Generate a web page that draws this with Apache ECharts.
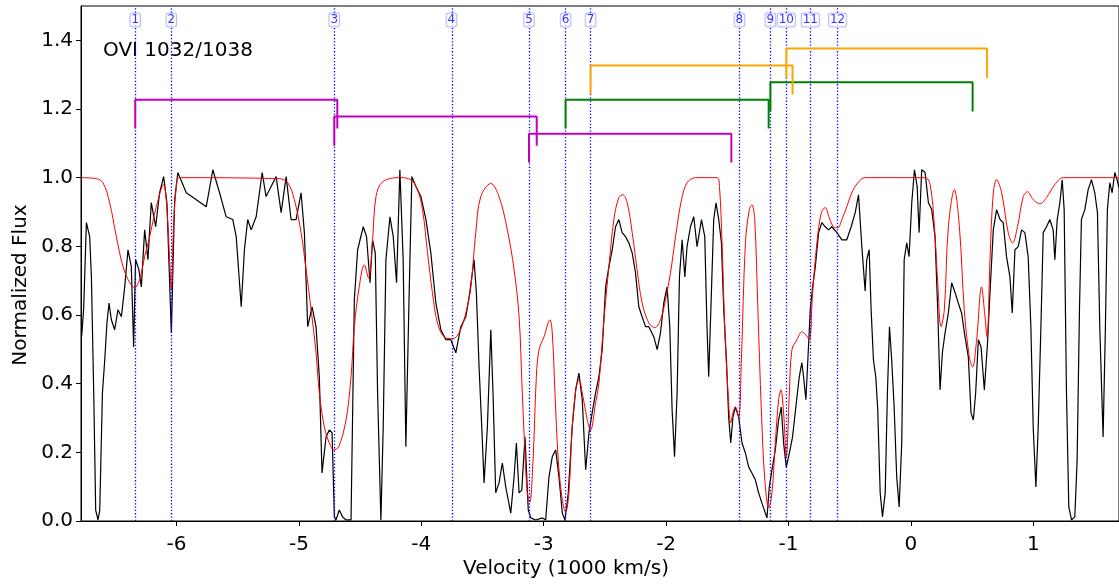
<!DOCTYPE html>
<html>
<head>
<meta charset="utf-8">
<title>OVI 1032/1038</title>
<script src="https://cdn.jsdelivr.net/npm/echarts@6/dist/echarts.min.js"></script>
<style>
  html, body { margin: 0; padding: 0; background: #fff; }
  #chart { width: 1119px; height: 585px; }
</style>
</head>
<body>
<div id="chart"></div>
<script>
// observed spectrum, [velocity (1000 km/s), normalized flux]
const fluxData = [
  [-6.774,0.54],[-6.758,0.62],[-6.736,0.869],[-6.709,0.828],[-6.695,0.711],[-6.676,0.373],[-6.660,0.032],
  [-6.641,0.003],[-6.627,0.030],[-6.605,0.373],[-6.586,0.469],[-6.568,0.577],[-6.551,0.635],[-6.532,0.586],
  [-6.505,0.557],[-6.478,0.615],[-6.450,0.595],[-6.423,0.682],[-6.396,0.790],[-6.369,0.741],[-6.350,0.507],
  [-6.334,0.761],[-6.307,0.732],[-6.287,0.682],[-6.260,0.848],[-6.233,0.761],[-6.206,0.927],[-6.170,0.857],
  [-6.138,0.956],[-6.105,1.003],[-6.078,0.927],[-6.042,0.548],[-6.015,0.936],[-5.989,1.015],[-5.920,0.956],
  [-5.838,0.936],[-5.757,0.915],[-5.703,1.023],[-5.648,0.956],[-5.594,0.886],[-5.540,0.878],[-5.512,0.828],
  [-5.471,0.624],[-5.445,0.790],[-5.418,0.878],[-5.390,0.848],[-5.349,0.886],[-5.300,1.015],[-5.268,0.945],
  [-5.227,0.974],[-5.186,1.003],[-5.145,0.898],[-5.104,1.003],[-5.064,0.878],[-5.023,0.878],[-4.982,0.956],
  [-4.955,0.840],[-4.928,0.566],[-4.892,0.624],[-4.860,0.566],[-4.833,0.420],[-4.811,0.140],[-4.778,0.245],
  [-4.751,0.265],[-4.729,0.257],[-4.710,0.012],[-4.697,0.003],[-4.670,0.032],[-4.643,0.012],[-4.615,0.003],
  [-4.574,0.003],[-4.547,0.644],[-4.520,0.790],[-4.474,0.857],[-4.447,0.828],[-4.419,0.694],[-4.398,0.819],
  [-4.376,0.781],[-4.357,0.373],[-4.330,0.003],[-4.311,0.274],[-4.289,0.761],[-4.256,0.886],[-4.229,0.828],
  [-4.202,0.694],[-4.175,1.023],[-4.148,0.761],[-4.126,0.216],[-4.099,0.665],[-4.077,1.003],[-4.044,0.974],
  [-4.003,0.945],[-3.962,0.878],[-3.922,0.781],[-3.881,0.635],[-3.840,0.557],[-3.799,0.528],[-3.759,0.528],
  [-3.718,0.490],[-3.677,0.566],[-3.636,0.595],[-3.604,0.665],[-3.569,0.761],[-3.550,0.665],[-3.528,0.449],
  [-3.506,0.274],[-3.487,0.111],[-3.460,0.274],[-3.432,0.557],[-3.414,0.373],[-3.392,0.082],[-3.365,0.111],
  [-3.338,0.169],[-3.310,0.099],[-3.269,0.023],[-3.242,0.128],[-3.223,0.227],[-3.201,0.082],[-3.179,0.090],
  [-3.153,0.245],[-3.126,0.032],[-3.106,0.009],[-3.065,0.003],[-3.011,0.009],[-2.984,0.003],[-2.957,0.128],
  [-2.930,0.187],[-2.902,0.207],[-2.875,0.128],[-2.848,0.023],[-2.826,0.003],[-2.799,0.082],[-2.767,0.274],
  [-2.739,0.382],[-2.712,0.431],[-2.685,0.353],[-2.657,0.149],[-2.630,0.257],[-2.604,0.315],[-2.576,0.373],
  [-2.549,0.420],[-2.522,0.499],[-2.494,0.682],[-2.467,0.741],[-2.440,0.790],[-2.413,0.857],[-2.386,0.878],
  [-2.359,0.840],[-2.331,0.828],[-2.304,0.810],[-2.277,0.781],[-2.250,0.723],[-2.223,0.624],[-2.196,0.595],
  [-2.168,0.566],[-2.141,0.566],[-2.100,0.536],[-2.073,0.499],[-2.046,0.548],[-2.019,0.635],[-1.992,0.682],
  [-1.970,0.566],[-1.951,0.324],[-1.931,0.187],[-1.910,0.373],[-1.891,0.711],[-1.869,0.819],[-1.847,0.711],
  [-1.829,0.799],[-1.801,0.857],[-1.774,0.886],[-1.747,0.799],[-1.711,0.878],[-1.684,0.828],[-1.666,0.566],
  [-1.652,0.420],[-1.630,0.665],[-1.611,0.878],[-1.592,0.927],[-1.570,0.878],[-1.548,0.810],[-1.529,0.615],
  [-1.507,0.469],[-1.489,0.303],[-1.472,0.227],[-1.454,0.303],[-1.434,0.332],[-1.407,0.303],[-1.380,0.227],
  [-1.352,0.198],[-1.325,0.157],[-1.299,0.140],[-1.271,0.120],[-1.244,0.082],[-1.217,0.052],[-1.189,0.023],
  [-1.176,0.009],[-1.157,0.099],[-1.135,0.149],[-1.108,0.207],[-1.081,0.294],[-1.059,0.332],[-1.040,0.227],
  [-1.018,0.157],[-0.993,0.198],[-0.967,0.245],[-0.940,0.332],[-0.912,0.420],[-0.891,0.461],[-0.877,0.420],
  [-0.858,0.353],[-0.842,0.469],[-0.822,0.615],[-0.803,0.682],[-0.781,0.741],[-0.754,0.840],[-0.728,0.869],
  [-0.700,0.857],[-0.673,0.848],[-0.646,0.857],[-0.605,0.840],[-0.564,0.819],[-0.524,0.819],[-0.488,0.857],
  [-0.455,0.898],[-0.428,0.950],[-0.401,0.800],[-0.374,0.670],[-0.361,0.761],[-0.341,0.790],[-0.325,0.615],
  [-0.306,0.469],[-0.287,0.420],[-0.271,0.324],[-0.251,0.082],[-0.232,0.012],[-0.210,0.082],[-0.192,0.373],
  [-0.175,0.566],[-0.157,0.469],[-0.137,0.332],[-0.116,0.128],[-0.096,0.041],[-0.075,0.227],[-0.055,0.761],
  [-0.034,0.810],[-0.015,0.770],[0.007,0.927],[0.029,1.023],[0.051,0.974],[0.067,0.840],[0.088,1.023],
  [0.116,1.015],[0.143,0.927],[0.170,0.907],[0.197,0.828],[0.219,0.615],[0.238,0.382],[0.257,0.490],
  [0.279,0.548],[0.306,0.606],[0.333,0.694],[0.361,0.665],[0.387,0.635],[0.414,0.606],[0.442,0.536],
  [0.469,0.478],[0.491,0.315],[0.510,0.294],[0.529,0.373],[0.551,0.528],[0.573,0.507],[0.600,0.382],
  [0.626,0.519],[0.646,0.665],[0.673,0.848],[0.700,0.907],[0.728,0.878],[0.754,0.869],[0.781,0.770],
  [0.809,0.711],[0.828,0.606],[0.850,0.790],[0.877,0.799],[0.904,0.848],[0.931,0.840],[0.958,0.770],
  [0.980,0.566],[0.999,0.274],[1.021,0.099],[1.040,0.274],[1.062,0.566],[1.081,0.840],[1.108,0.857],
  [1.135,0.878],[1.162,0.848],[1.176,0.761],[1.195,0.878],[1.217,0.927],[1.236,0.994],[1.252,0.907],
  [1.271,0.373],[1.290,0.041],[1.312,0.003],[1.339,0.012],[1.358,0.178],[1.377,0.615],[1.393,0.878],
  [1.421,0.907],[1.448,0.965],[1.475,0.994],[1.502,0.956],[1.524,0.898],[1.543,0.566],[1.570,0.245],
  [1.589,0.566],[1.605,0.907],[1.625,0.985],[1.644,0.956],[1.666,1.015],[1.684,0.994],[1.700,0.970]
];

// fitted model
const modelData = [
  [-6.78,1.000],[-6.654,0.997],[-6.600,0.985],[-6.546,0.927],[-6.491,0.828],[-6.437,0.741],[-6.382,0.694],
  [-6.342,0.679],[-6.301,0.703],[-6.260,0.770],[-6.219,0.828],[-6.165,0.915],[-6.105,0.980],[-6.078,0.907],
  [-6.056,0.761],[-6.042,0.673],[-6.024,0.857],[-6.001,0.974],[-5.975,1.000],[-5.159,0.997],[-5.091,0.985],
  [-5.037,0.936],[-4.982,0.840],[-4.941,0.732],[-4.900,0.615],[-4.860,0.490],[-4.833,0.373],[-4.792,0.274],
  [-4.751,0.227],[-4.716,0.207],[-4.675,0.216],[-4.615,0.294],[-4.574,0.420],[-4.547,0.566],[-4.507,0.682],
  [-4.466,0.746],[-4.431,0.708],[-4.398,0.819],[-4.370,0.945],[-4.316,0.988],[-4.180,1.000],[-4.085,0.994],
  [-4.031,0.965],[-3.990,0.907],[-3.949,0.781],[-3.909,0.665],[-3.868,0.577],[-3.813,0.536],[-3.745,0.531],
  [-3.691,0.548],[-3.636,0.606],[-3.595,0.682],[-3.555,0.840],[-3.514,0.945],[-3.432,0.983],[-3.365,0.945],
  [-3.297,0.848],[-3.242,0.732],[-3.201,0.595],[-3.175,0.373],[-3.153,0.198],[-3.134,0.082],[-3.114,0.055],
  [-3.087,0.178],[-3.060,0.420],[-3.038,0.499],[-2.998,0.536],[-2.949,0.586],[-2.930,0.548],[-2.908,0.373],
  [-2.881,0.178],[-2.848,0.061],[-2.821,0.026],[-2.794,0.082],[-2.767,0.274],[-2.734,0.391],[-2.712,0.411],
  [-2.679,0.362],[-2.644,0.294],[-2.617,0.265],[-2.576,0.344],[-2.549,0.400],[-2.508,0.586],[-2.467,0.741],
  [-2.427,0.878],[-2.386,0.942],[-2.353,0.950],[-2.318,0.927],[-2.277,0.840],[-2.237,0.732],[-2.196,0.635],
  [-2.141,0.577],[-2.092,0.563],[-2.046,0.586],[-2.005,0.644],[-1.964,0.723],[-1.923,0.828],[-1.874,0.936],
  [-1.829,0.985],[-1.760,1.000],[-1.584,1.000],[-1.564,0.974],[-1.543,0.810],[-1.521,0.566],[-1.494,0.373],
  [-1.472,0.286],[-1.454,0.315],[-1.434,0.332],[-1.407,0.303],[-1.385,0.469],[-1.352,0.810],[-1.320,0.907],
  [-1.299,0.921],[-1.276,0.878],[-1.250,0.615],[-1.222,0.324],[-1.195,0.128],[-1.162,0.038],[-1.135,0.082],
  [-1.108,0.227],[-1.081,0.353],[-1.062,0.382],[-1.040,0.315],[-1.018,0.187],[-0.993,0.373],[-0.972,0.499],
  [-0.931,0.528],[-0.891,0.551],[-0.858,0.542],[-0.830,0.528],[-0.803,0.665],[-0.768,0.810],[-0.732,0.898],
  [-0.700,0.913],[-0.667,0.883],[-0.632,0.857],[-0.597,0.854],[-0.564,0.878],[-0.524,0.915],[-0.483,0.956],
  [-0.434,0.985],[-0.374,1.000],[0.116,1.000],[0.157,0.980],[0.192,0.857],[0.219,0.694],[0.246,0.566],
  [0.273,0.615],[0.306,0.857],[0.355,0.965],[0.396,0.857],[0.436,0.615],[0.477,0.478],[0.504,0.449],
  [0.537,0.528],[0.577,0.682],[0.600,0.615],[0.622,0.536],[0.646,0.761],[0.673,0.956],[0.700,0.994],
  [0.741,0.956],[0.795,0.840],[0.830,0.810],[0.871,0.857],[0.918,0.945],[0.953,0.959],[0.999,0.936],
  [1.054,0.924],[1.108,0.942],[1.176,0.980],[1.244,1.000],[1.700,1.000]
];

// absorption component markers
const lineVel = [-6.337, -6.042, -4.711, -3.754, -3.120, -2.821, -2.617, -1.401, -1.148, -1.018, -0.822, -0.599];
const lineIds = ['1','2','3','4','5','6','7','8','9','10','11','12'];
const labelY = 1.459;

// doublet brackets: [v start, v end, top, leg bottom]
const magentaBrackets = [[-6.337,-4.686,1.227,1.143],[-4.711,-3.057,1.178,1.093],[-3.120,-1.467,1.128,1.044]];
const greenBrackets = [[-2.821,-1.162,1.227,1.143],[-1.148,0.504,1.278,1.193]];
const orangeBrackets = [[-2.617,-0.967,1.327,1.242],[-1.018,0.622,1.376,1.290]];

const xTicks = [-6, -5, -4, -3, -2, -1, 0, 1];
const yTicks = [0, 0.2, 0.4, 0.6, 0.8, 1.0, 1.2, 1.4];

const FONT = 'DejaVu Sans';

function bracketSeries(list, color) {
  return list.map(b => ({
    type: 'line',
    data: [[b[0], b[3]], [b[0], b[2]], [b[1], b[2]], [b[1], b[3]]],
    symbol: 'none',
    lineStyle: { color: color, width: 2 },
    silent: true,
    z: 6
  }));
}

const chart = echarts.init(document.getElementById('chart'), null, { renderer: 'canvas' });

chart.setOption({
  animation: false,
  backgroundColor: '#fff',
  grid: {
    left: 81, top: 6, width: 1040, height: 515,
    show: true, borderColor: '#000', borderWidth: 1, backgroundColor: 'transparent'
  },
  xAxis: {
    type: 'value', min: -6.78, max: 1.7,
    axisLine: { show: true, onZero: false, lineStyle: { color: '#000', width: 1 } },
    axisTick: { show: true, inside: false, length: 5, customValues: xTicks, lineStyle: { color: '#000' } },
    axisLabel: { customValues: xTicks, color: '#000', fontFamily: FONT, fontSize: 20, margin: 14 },
    splitLine: { show: false }
  },
  yAxis: {
    type: 'value', min: 0, max: 1.5,
    axisLine: { show: true, onZero: false, lineStyle: { color: '#000', width: 1 } },
    axisTick: { show: true, inside: false, length: 5, customValues: yTicks, lineStyle: { color: '#000' } },
    axisLabel: {
      customValues: yTicks, color: '#000', fontFamily: FONT, fontSize: 20, margin: 8,
      formatter: v => v.toFixed(1)
    },
    splitLine: { show: false }
  },
  graphic: [
    { type: 'text', x: 103, y: 51, style: { text: 'OVI 1032/1038', fontFamily: FONT, fontSize: 20, fill: '#000', verticalAlign: 'middle' } },
    { type: 'text', x: 566, y: 569, style: { text: 'Velocity (1000 km/s)', fontFamily: FONT, fontSize: 20, fill: '#000', align: 'center', verticalAlign: 'middle' } },
    { type: 'text', x: 21, y: 285, rotation: Math.PI / 2, style: { text: 'Normalized Flux', fontFamily: FONT, fontSize: 20, fill: '#000', align: 'center', verticalAlign: 'middle' } }
  ],
  series: [
    {
      name: 'flux', type: 'line', data: fluxData, symbol: 'none',
      lineStyle: { color: '#000', width: 1.2 }, silent: true, z: 2
    },
    {
      name: 'model', type: 'line', data: modelData, symbol: 'none', smooth: 0.35,
      lineStyle: { color: '#ff0000', width: 1 }, silent: true, z: 3
    },
    {
      name: 'components', type: 'line', data: [], silent: true, z: 4,
      markLine: {
        symbol: 'none', silent: true, animation: false,
        label: { show: false },
        lineStyle: { color: '#0000ff', width: 1.3, type: [1.3, 2] },
        data: lineVel.map(v => ({ xAxis: v }))
      }
    },
    {
      name: 'ids', type: 'scatter', symbolSize: 0, silent: true, z: 5,
      data: lineVel.map((v, i) => [v, labelY, lineIds[i]]),
      label: {
        show: true, position: 'inside', formatter: p => p.data[2],
        color: '#0000ff', fontFamily: FONT, fontSize: 12,
        backgroundColor: '#fff', borderColor: 'rgba(0,0,255,0.35)', borderWidth: 1,
        borderRadius: 2, padding: [1, 1, 0, 1]
      }
    },
    ...bracketSeries(magentaBrackets, '#bf00bf'),
    ...bracketSeries(greenBrackets, '#008000'),
    ...bracketSeries(orangeBrackets, '#ffa500')
  ]
});
</script>
</body>
</html>
